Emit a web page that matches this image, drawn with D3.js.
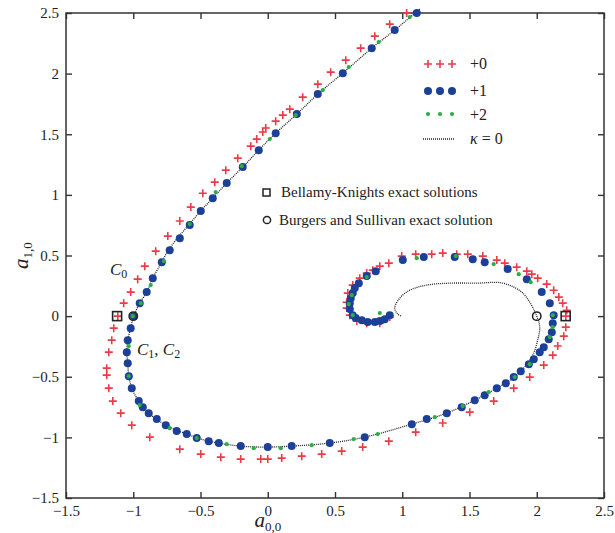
<!DOCTYPE html>
<html>
<head>
<meta charset="utf-8">
<script src="https://cdn.jsdelivr.net/npm/d3@7"></script>
<style>
  body { margin: 0; background: #fff; }
  text { font-family: "Liberation Serif", "DejaVu Serif", serif; fill: #222; }
</style>
</head>
<body>
<svg id="chart" width="615" height="533"></svg>
<script>
// ---------- data (a00, a10) ----------

var ticks = [-1.5, -1, -0.5, 0, 0.5, 1, 1.5, 2, 2.5];

// kappa = 0 dotted curve
var kappa0 = [
  [1.130, 2.532], [0.944, 2.359], [0.773, 2.210], [0.558, 2.004], [0.372, 1.831],
  [0.216, 1.666], [0.059, 1.509], [-0.067, 1.369], [-0.186, 1.229], [-0.305, 1.097],
  [-0.409, 0.973], [-0.506, 0.858], [-0.595, 0.742], [-0.684, 0.627], [-0.743, 0.536],
  [-0.788, 0.445], [-0.855, 0.313], [-0.900, 0.198], [-0.952, 0.107], [-0.996, 0],
  [-1.019, -0.099], [-1.041, -0.198], [-1.048, -0.297], [-1.041, -0.388], [-1.033, -0.495],
  [-1.011, -0.594], [-0.959, -0.701], [-0.885, -0.800], [-0.758, -0.899], [-0.602, -0.973],
  [-0.439, -1.031], [-0.201, -1.072], [0, -1.080], [0.178, -1.072], [0.461, -1.047],
  [0.721, -0.998], [1.071, -0.891], [1.331, -0.800], [1.539, -0.693], [1.703, -0.594],
  [1.851, -0.487], [1.963, -0.338], [2.007, -0.198], [2.022, -0.091], [2.0, 0],
  [1.896, 0.190], [1.747, 0.272], [1.554, 0.272], [1.353, 0.272], [1.182, 0.256],
  [1.056, 0.214], [0.981, 0.148], [0.944, 0.066], [0.967, 0.016], [0.996, 0]
];

// +0 (red crosses)
var plus0 = [
  [1.033, 2.499], [0.907, 2.408], [0.796, 2.309], [0.691, 2.210], [0.580, 2.111],
  [0.468, 2.012], [0.372, 1.913], [0.260, 1.806], [0.164, 1.707], [0.112, 1.658],
  [0.059, 1.608], [-0.015, 1.551], [-0.037, 1.518], [-0.082, 1.460], [-0.126, 1.402],
  [-0.223, 1.303], [-0.312, 1.204], [-0.394, 1.105], [-0.483, 1.014], [-0.572, 0.899],
  [-0.654, 0.784], [-0.743, 0.660], [-0.833, 0.536], [-0.914, 0.412], [-0.967, 0.305],
  [-1.019, 0.198], [-1.071, 0.107], [-1.115, 0], [-1.145, -0.099], [-1.160, -0.198],
  [-1.182, -0.297], [-1.197, -0.429], [-1.197, -0.487], [-1.182, -0.594], [-1.152, -0.701],
  [-1.093, -0.800], [-1.011, -0.899], [-0.877, -0.998], [-0.654, -1.097], [-0.498, -1.138],
  [-0.349, -1.163], [-0.201, -1.179], [-0.052, -1.179], [0.000, -1.179], [0.104, -1.171],
  [0.253, -1.155], [0.401, -1.138], [0.550, -1.113], [0.706, -1.080], [0.900, -1.031],
  [1.100, -0.957], [1.301, -0.882], [1.502, -0.792], [1.680, -0.701], [1.829, -0.594],
  [1.948, -0.503], [2.052, -0.404], [2.119, -0.322], [2.156, -0.247], [2.201, -0.165],
  [2.216, -0.091], [2.216, 0], [2.223, 0.049], [2.193, 0.107], [2.164, 0.157],
  [2.126, 0.214], [2.074, 0.264], [2.007, 0.313], [1.963, 0.346], [1.926, 0.371],
  [1.851, 0.404], [1.762, 0.437], [1.703, 0.462], [1.599, 0.495], [1.487, 0.511],
  [1.405, 0.511], [1.301, 0.520], [1.219, 0.511], [1.100, 0.511], [0.996, 0.495],
  [0.900, 0.437], [0.833, 0.412], [0.781, 0.379], [0.736, 0.355], [0.684, 0.313],
  [0.632, 0.256], [0.595, 0.190], [0.587, 0.115], [0.587, 0.066], [0.610, 0.008],
  [0.662, -0.041], [0.736, -0.058], [0.833, -0.058], [0.907, -0.008]
];

// +1 (blue dots)
var plus1 = [
  [1.108, 2.500], [0.944, 2.359], [0.773, 2.210], [0.558, 2.004], [0.372, 1.831],
  [0.216, 1.666], [0.059, 1.509], [-0.067, 1.369], [-0.186, 1.229], [-0.305, 1.097],
  [-0.409, 0.973], [-0.498, 0.866], [-0.580, 0.751], [-0.654, 0.643], [-0.729, 0.544],
  [-0.788, 0.445], [-0.855, 0.313], [-0.900, 0.198], [-0.952, 0.107], [-0.996, 0.000],
  [-1.019, -0.099], [-1.041, -0.198], [-1.048, -0.297], [-1.041, -0.388], [-1.033, -0.495],
  [-1.011, -0.594], [-0.959, -0.701], [-0.929, -0.751], [-0.885, -0.800], [-0.825, -0.849],
  [-0.758, -0.899], [-0.677, -0.948], [-0.602, -0.973], [-0.528, -1.006], [-0.439, -1.031],
  [-0.364, -1.047], [-0.201, -1.072], [0.000, -1.080], [0.178, -1.072], [0.461, -1.047],
  [0.721, -0.998], [1.071, -0.891], [1.182, -0.849], [1.331, -0.800], [1.442, -0.751],
  [1.539, -0.693], [1.613, -0.652], [1.703, -0.594], [1.770, -0.553], [1.829, -0.503],
  [1.881, -0.454], [1.941, -0.396], [1.978, -0.355], [2.022, -0.297], [2.052, -0.256],
  [2.089, -0.190], [2.112, -0.132], [2.119, -0.058], [2.126, 0.008], [2.097, 0.107],
  [2.037, 0.198], [1.926, 0.305], [1.784, 0.388], [1.613, 0.445], [1.524, 0.470],
  [1.390, 0.487], [1.160, 0.487], [1.004, 0.462], [0.803, 0.371], [0.736, 0.330],
  [0.677, 0.272], [0.647, 0.231], [0.632, 0.190], [0.617, 0.148], [0.610, 0.107],
  [0.610, 0.058], [0.632, 0.008], [0.654, -0.016], [0.699, -0.033], [0.743, -0.049],
  [0.796, -0.049], [0.833, -0.041], [0.870, -0.025], [0.907, 0.008]
];

// +2 (green dots)
var plus2 = [
  [1.056, 2.466], [0.825, 2.260], [0.602, 2.054], [0.409, 1.864], [0.208, 1.658],
  [0.015, 1.460], [-0.193, 1.237], [-0.387, 1.023], [-0.580, 0.759], [-0.773, 0.454],
  [-0.870, 0.256], [-0.944, 0.107], [-1.004, 0], [-1.033, -0.247], [-1.033, -0.495],
  [-0.952, -0.734], [-0.729, -0.924], [-0.528, -1.006], [-0.305, -1.056], [-0.104, -1.089],
  [0.097, -1.089], [0.327, -1.064], [0.639, -1.014], [0.818, -0.973], [1.242, -0.833],
  [1.450, -0.742], [1.643, -0.627], [1.836, -0.503], [1.948, -0.396], [2.097, -0.173],
  [2.119, -0.091], [2.119, 0.008], [1.955, 0.280], [1.866, 0.346], [1.680, 0.429],
  [1.398, 0.495], [1.108, 0.478], [0.736, 0.322], [0.625, 0.173], [0.602, 0.099],
  [0.632, 0.008], [0.833, 0.025]
];

// exact solutions
var bellamyKnights = [[-1.12, 0], [2.215, 0]];
var burgersSullivan = [[-1.0, 0], [2.0, 0]];

var red = "#ec3b48", blue = "#1c3f98", green = "#2cae45";

// ---------- chart ----------

var svg = d3.select("#chart");

var x = d3.scaleLinear().domain([-1.5, 2.5]).range([66, 604]);
var y = d3.scaleLinear().domain([-1.5, 2.5]).range([498, 13]);
var fmt = d3.format("~g");

var bottomAxis = svg.append("g")
    .attr("transform", "translate(0," + y(-1.5) + ")")
    .call(d3.axisBottom(x).tickValues(ticks).tickSize(-6).tickPadding(7).tickFormat(fmt));
var topAxis = svg.append("g")
    .attr("transform", "translate(0," + y(2.5) + ")")
    .call(d3.axisTop(x).tickValues(ticks).tickSize(-6).tickFormat(""));
var leftAxis = svg.append("g")
    .attr("transform", "translate(" + x(-1.5) + ",0)")
    .call(d3.axisLeft(y).tickValues(ticks).tickSize(-6).tickPadding(7).tickFormat(fmt));
var rightAxis = svg.append("g")
    .attr("transform", "translate(" + x(2.5) + ",0)")
    .call(d3.axisRight(y).tickValues(ticks).tickSize(-6).tickFormat(""));

svg.selectAll(".domain").remove();
svg.selectAll(".tick line").attr("stroke", "#333").attr("stroke-width", 1.4);
svg.selectAll(".tick text")
    .attr("font-family", "Liberation Serif")
    .attr("font-size", 15)
    .attr("fill", "#222");

svg.append("rect")
    .attr("x", x(-1.5))
    .attr("y", y(2.5))
    .attr("width", x(2.5) - x(-1.5))
    .attr("height", y(-1.5) - y(2.5))
    .attr("fill", "none")
    .attr("stroke", "#333")
    .attr("stroke-width", 1.5);

// axis titles
var xt = svg.append("text")
    .attr("x", x(0))
    .attr("y", 527)
    .attr("text-anchor", "middle")
    .attr("font-size", 21)
    .attr("font-style", "italic");
xt.append("tspan").text("a");
xt.append("tspan").attr("dy", 4).attr("font-size", 13).attr("font-style", "normal").text("0,0");

var yt = svg.append("text")
    .attr("transform", "translate(28," + y(0.5) + ") rotate(-90)")
    .attr("text-anchor", "middle")
    .attr("font-size", 21)
    .attr("font-style", "italic");
yt.append("tspan").text("a");
yt.append("tspan").attr("dy", 4).attr("font-size", 13).attr("font-style", "normal").text("1,0");

// kappa = 0 curve
var line = d3.line()
    .x(function(d){ return x(d[0]); })
    .y(function(d){ return y(d[1]); })
    .curve(d3.curveCatmullRom);

var plot = svg.append("g");

plot.append("path")
    .datum(kappa0)
    .attr("d", line)
    .attr("fill", "none")
    .attr("stroke", "#222")
    .attr("stroke-width", 1.3)
    .attr("stroke-dasharray", "1,1");

var crossPath = "M-4,0H4M0,-4V4";

plot.selectAll("path.p0")
    .data(plus0)
    .enter().append("path")
    .attr("class", "p0")
    .attr("d", crossPath)
    .attr("transform", function(d){ return "translate(" + x(d[0]) + "," + y(d[1]) + ")"; })
    .attr("stroke", red)
    .attr("stroke-width", 1.6);

plot.selectAll("circle.p1")
    .data(plus1)
    .enter().append("circle")
    .attr("class", "p1")
    .attr("cx", function(d){ return x(d[0]); })
    .attr("cy", function(d){ return y(d[1]); })
    .attr("r", 4)
    .attr("fill", blue);

plot.selectAll("circle.p2")
    .data(plus2)
    .enter().append("circle")
    .attr("class", "p2")
    .attr("cx", function(d){ return x(d[0]); })
    .attr("cy", function(d){ return y(d[1]); })
    .attr("r", 2.1)
    .attr("fill", green);

plot.selectAll("rect.bk")
    .data(bellamyKnights)
    .enter().append("rect")
    .attr("class", "bk")
    .attr("x", function(d){ return x(d[0]) - 4.5; })
    .attr("y", function(d){ return y(d[1]) - 4.5; })
    .attr("width", 9)
    .attr("height", 9)
    .attr("fill", "none")
    .attr("stroke", "#222")
    .attr("stroke-width", 1.6);

plot.selectAll("circle.bs")
    .data(burgersSullivan)
    .enter().append("circle")
    .attr("class", "bs")
    .attr("cx", function(d){ return x(d[0]); })
    .attr("cy", function(d){ return y(d[1]); })
    .attr("r", 4.2)
    .attr("fill", "none")
    .attr("stroke", "#222")
    .attr("stroke-width", 1.5);

// curve labels
var c0 = svg.append("text").attr("x", 110).attr("y", 275).attr("font-size", 17).attr("font-style", "italic");
c0.append("tspan").text("C");
c0.append("tspan").attr("dy", 3).attr("font-size", 12).attr("font-style", "normal").text("0");

var c12 = svg.append("text").attr("x", 137).attr("y", 355).attr("font-size", 17).attr("font-style", "italic");
c12.append("tspan").text("C");
c12.append("tspan").attr("dy", 3).attr("font-size", 12).attr("font-style", "normal").text("1");
c12.append("tspan").attr("dy", -3).attr("font-style", "normal").text(", ");
c12.append("tspan").text("C");
c12.append("tspan").attr("dy", 3).attr("font-size", 12).attr("font-style", "normal").text("2");

// legend
var lg = svg.append("g");
var lgX = [428, 440, 452];

lg.selectAll("path.l0").data(lgX).enter().append("path")
    .attr("d", crossPath)
    .attr("transform", function(d){ return "translate(" + d + ",64)"; })
    .attr("stroke", red).attr("stroke-width", 1.6);
lg.selectAll("circle.l1").data(lgX).enter().append("circle")
    .attr("cx", function(d){ return d; }).attr("cy", 91).attr("r", 4).attr("fill", blue);
lg.selectAll("circle.l2").data(lgX).enter().append("circle")
    .attr("cx", function(d){ return d; }).attr("cy", 114).attr("r", 2.1).attr("fill", green);
lg.append("line")
    .attr("x1", 423).attr("x2", 455).attr("y1", 139).attr("y2", 139)
    .attr("stroke", "#222").attr("stroke-width", 1.3).attr("stroke-dasharray", "1,1");

var legendText = [["+0", 69], ["+1", 96], ["+2", 120]];
lg.selectAll("text.lt").data(legendText).enter().append("text")
    .attr("x", 470).attr("y", function(d){ return d[1]; })
    .attr("font-size", 16).text(function(d){ return d[0]; });
var kt = lg.append("text").attr("x", 470).attr("y", 144).attr("font-size", 16);
kt.append("tspan").attr("font-style", "italic").text("κ");
kt.append("tspan").text(" = 0");

lg.append("rect")
    .attr("x", 263).attr("y", 189).attr("width", 7).attr("height", 7)
    .attr("fill", "none").attr("stroke", "#222").attr("stroke-width", 1.5);
lg.append("text").attr("x", 281).attr("y", 197).attr("font-size", 15)
    .text("Bellamy-Knights exact solutions");
lg.append("circle").attr("cx", 267).attr("cy", 220).attr("r", 3.6)
    .attr("fill", "none").attr("stroke", "#222").attr("stroke-width", 1.5);
lg.append("text").attr("x", 279).attr("y", 225).attr("font-size", 15)
    .text("Burgers and Sullivan exact solution");
</script>
</body>
</html>
